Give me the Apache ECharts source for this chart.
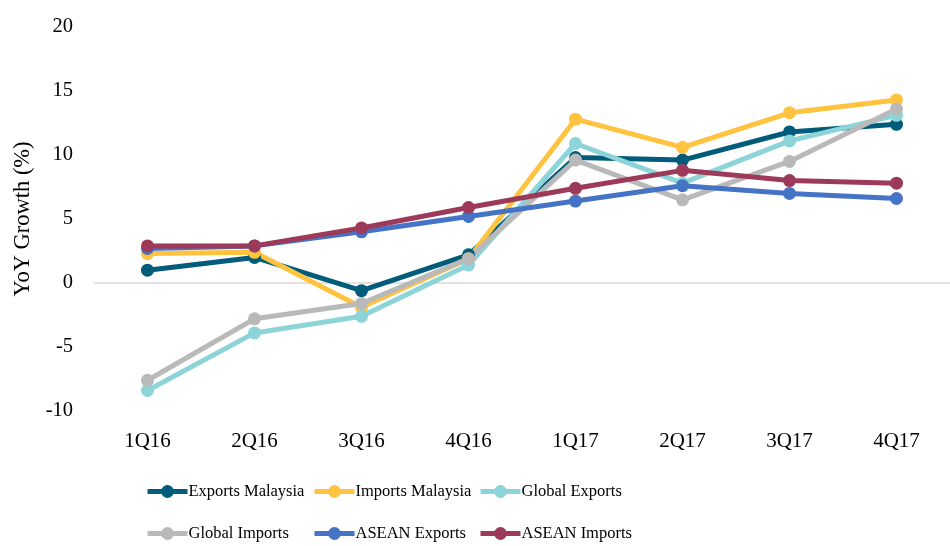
<!DOCTYPE html>
<html>
<head>
<meta charset="utf-8">
<script src="https://cdn.jsdelivr.net/npm/echarts@6/dist/echarts.min.js"></script>
<style>
  html, body { margin: 0; padding: 0; background: #fff; }
  #chart { width: 950px; height: 546px; }
</style>
</head>
<body>
<div id="chart"></div>
<script>
const quarters = ['1Q16', '2Q16', '3Q16', '4Q16', '1Q17', '2Q17', '3Q17', '4Q17']

const exportsMalaysia = [1.0, 2.0, -0.6, 2.2, 9.8, 9.6, 11.8, 12.4]
const importsMalaysia = [2.3, 2.4, -1.9, 1.9, 12.8, 10.6, 13.3, 14.3]
const globalExports = [-8.4, -3.9, -2.6, 1.4, 10.9, 7.8, 11.1, 13.1]
const globalImports = [-7.6, -2.8, -1.6, 1.9, 9.6, 6.5, 9.5, 13.6]
const aseanExports = [2.7, 2.9, 4.0, 5.2, 6.4, 7.6, 7.0, 6.6]
const aseanImports = [2.9, 2.9, 4.3, 5.9, 7.4, 8.8, 8.0, 7.8]

const yTicks = [-10, -5, 0, 5, 10, 15, 20]

const FONT = '"Liberation Serif", "DejaVu Serif", serif'

const seriesDefs = [
  { name: 'Exports Malaysia', data: exportsMalaysia, color: '#005C7A' },
  { name: 'Imports Malaysia', data: importsMalaysia, color: '#FFC33F' },
  { name: 'Global Exports', data: globalExports, color: '#8DD4D9' },
  { name: 'Global Imports', data: globalImports, color: '#B9B9B9' },
  { name: 'ASEAN Exports', data: aseanExports, color: '#4573C5' },
  { name: 'ASEAN Imports', data: aseanImports, color: '#9D3A5A' },
]

// legend slots: 3 columns x 2 rows
const legendPos = [
  { left: 145, top: 483 }, { left: 312, top: 483 }, { left: 478, top: 483 },
  { left: 145, top: 525 }, { left: 312, top: 525 }, { left: 478, top: 525 },
]

const chart = echarts.init(document.getElementById('chart'), null, { renderer: 'canvas' })

chart.setOption({
  backgroundColor: '#fff',
  animation: false,
  grid: { left: 94, right: -4, top: 27, bottom: 135, containLabel: false },
  legend: seriesDefs.map((s, i) => ({
    data: [s.name],
    left: legendPos[i].left,
    top: legendPos[i].top,
    itemWidth: 40,
    itemHeight: 16,
    itemGap: 0,
    lineStyle: { width: 5 },
    textStyle: { fontFamily: FONT, fontSize: 16.5, color: '#000', padding: [0, 0, 0, -4] },
    padding: 0,
  })),
  xAxis: {
    type: 'category',
    data: quarters,
    boundaryGap: true,
    axisLine: { onZero: true, lineStyle: { color: '#D9D9D9', width: 1.5 } },
    axisTick: { show: false },
    axisLabel: { fontFamily: FONT, fontSize: 21, color: '#000', margin: 20 },
    splitLine: { show: false },
  },
  yAxis: {
    type: 'value',
    min: yTicks[0],
    max: yTicks[yTicks.length - 1],
    interval: 5,
    name: 'YoY Growth (%)',
    nameLocation: 'middle',
    nameGap: 55,
    nameTextStyle: { fontFamily: FONT, fontSize: 22.5, color: '#000' },
    axisLine: { show: false },
    axisTick: { show: false },
    splitLine: { show: false },
    axisLabel: { fontFamily: FONT, fontSize: 20.5, color: '#000', margin: 21 },
  },
  series: seriesDefs.map(s => ({
    name: s.name,
    type: 'line',
    data: s.data,
    color: s.color,
    symbol: 'circle',
    symbolSize: 13,
    lineStyle: { width: 5, color: s.color },
    itemStyle: { color: s.color },
  })),
})
</script>
</body>
</html>
